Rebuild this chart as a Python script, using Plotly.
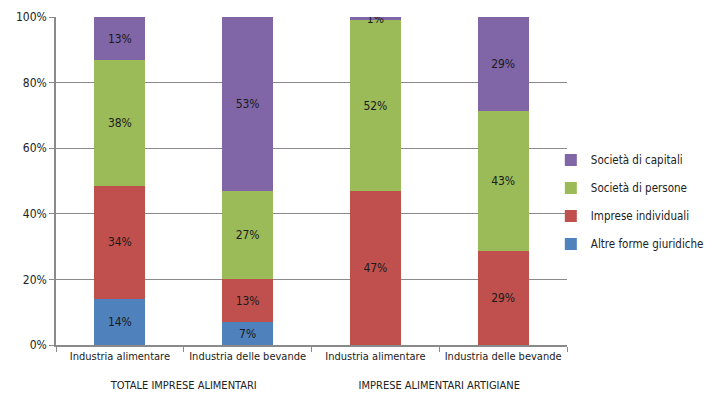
import plotly.graph_objects as go

# Two-level categories: group, then sector
groups = ["TOTALE IMPRESE ALIMENTARI", "TOTALE IMPRESE ALIMENTARI",
          "IMPRESE ALIMENTARI ARTIGIANE", "IMPRESE ALIMENTARI ARTIGIANE"]
sectors = ["Industria alimentare", "Industria delle bevande",
           "Industria alimentare", "Industria delle bevande"]

# Share of firms by legal form (%)
altre_forme = [14, 7, 0, 0]
imprese_individuali = [34, 13, 47, 29]
societa_persone = [38, 27, 52, 43]
societa_capitali = [13, 53, 1, 29]

series = [
    ("Altre forme giuridiche", altre_forme, "#4F81BD"),
    ("Imprese individuali", imprese_individuali, "#C0504D"),
    ("Società di persone", societa_persone, "#9BBB59"),
    ("Società di capitali", societa_capitali, "#8066A6"),
]

FONT = "DejaVu Sans Condensed, Liberation Sans, sans-serif"


def f(size, color="#222222"):
    return dict(family=FONT, size=size, color=color)


# a leading line break lowers the group row a little below the sector labels
group_labels = ["<br>" + g for g in groups]

fig = go.Figure()
for i, (name, vals, color) in enumerate(series):
    fig.add_trace(go.Bar(
        name=name,
        legendgroup=name,
        legendrank=len(series) - i,
        x=[group_labels, sectors],
        y=vals,
        marker=dict(color=color, line=dict(width=0)),
        text=[f"{v}%" if v else "" for v in vals],
        textposition="inside",
        insidetextanchor="middle",
        textangle=0,
        constraintext="none",
        textfont=f(12, "#1a1a1a"),
        width=0.4,
    ))

fig.update_layout(
    barmode="stack",
    barnorm="percent",
    width=708,
    height=396,
    margin=dict(l=56, r=141, t=17, b=51, autoexpand=False),
    paper_bgcolor="white",
    plot_bgcolor="white",
    font=f(12),
    showlegend=True,
    legend=dict(
        traceorder="grouped",
        xref="container", yref="container",
        x=0.778, xanchor="left",
        y=0.49, yanchor="middle",
        font=f(11.5),
        itemwidth=30,
        tracegroupgap=9,
        bgcolor="rgba(0,0,0,0)",
    ),
    xaxis=dict(
        type="multicategory",
        automargin=False,
        showline=True, linecolor="#8a8a8a", linewidth=1.5,
        ticks="outside", tickson="boundaries", ticklen=5, tickcolor="#8a8a8a",
        showdividers=False,
        showgrid=False,
        tickangle=0,
        tickfont=f(11),
    ),
    yaxis=dict(
        range=[0, 100],
        dtick=20,
        ticksuffix="%",
        automargin=False,
        showline=True, linecolor="#8a8a8a", linewidth=1.5,
        ticks="outside", ticklen=5, tickcolor="#8a8a8a",
        showgrid=True, gridcolor="#8a8a8a", gridwidth=1,
        zeroline=False,
        tickfont=f(12),
    ),
)

fig.write_html("out.html")
